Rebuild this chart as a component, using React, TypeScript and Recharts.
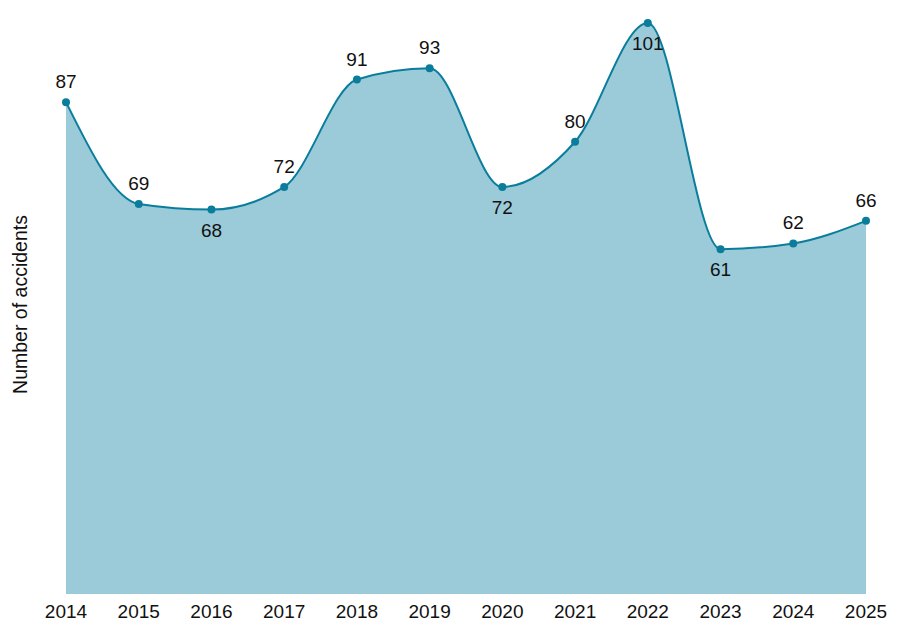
import { Area, AreaChart, LabelList, XAxis, YAxis } from "recharts"

const years = ["2014", "2015", "2016", "2017", "2018", "2019", "2020", "2021", "2022", "2023", "2024", "2025"]
const accidents = [87, 69, 68, 72, 91, 93, 72, 80, 101, 61, 62, 66]

const data = years.map((year, i) => ({ year, accidents: accidents[i] }))
const maxValue = Math.max(...accidents)

const STROKE = "#0b7d9c"
const FILL = "#9bcbd9"
const FONT = "Liberation Sans, Arial, sans-serif"

// label goes under the point at local minima and at the peak
function labelBelow(i: number) {
  const v = accidents[i]
  if (v === maxValue) return true
  const prev = i > 0 ? accidents[i - 1] : Infinity
  const next = i < accidents.length - 1 ? accidents[i + 1] : Infinity
  return v < prev && v < next
}

function PointLabel(props: any) {
  const { x, y, value, index } = props
  const below = labelBelow(index)
  return (
    <text x={x} y={below ? y + 27 : y - 14} textAnchor="middle" fontSize={19} fill="#111" fontFamily={FONT}>
      {value}
    </text>
  )
}

export default function App() {
  return (
    <div style={{ position: "absolute", left: 0, top: 0, width: 905, height: 635, background: "#fff" }}>
      <AreaChart width={905} height={635} data={data} margin={{ top: 23, right: 39, bottom: 11, left: 36 }}>
        <XAxis
          dataKey="year"
          axisLine={false}
          tickLine={false}
          height={30}
          tick={{ fontSize: 19, fill: "#111", fontFamily: FONT }}
          tickMargin={5}
          interval={0}
        />
        <YAxis
          domain={[0, "dataMax"]}
          width={30}
          tick={false}
          axisLine={false}
          tickLine={false}
          label={{
            value: "Number of accidents",
            angle: -90,
            position: "insideLeft",
            offset: 0,
            dx: -16,
            dy: -4,
            style: { textAnchor: "middle", fontSize: 19.5, fill: "#111", fontFamily: FONT },
          }}
        />
        <Area
          type="monotone"
          dataKey="accidents"
          stroke={STROKE}
          strokeWidth={2}
          fill={FILL}
          fillOpacity={1}
          dot={{ r: 4, fill: STROKE, stroke: STROKE, strokeWidth: 0 }}
          activeDot={false}
          isAnimationActive={false}
        >
          <LabelList dataKey="accidents" content={PointLabel} />
        </Area>
      </AreaChart>
    </div>
  )
}
